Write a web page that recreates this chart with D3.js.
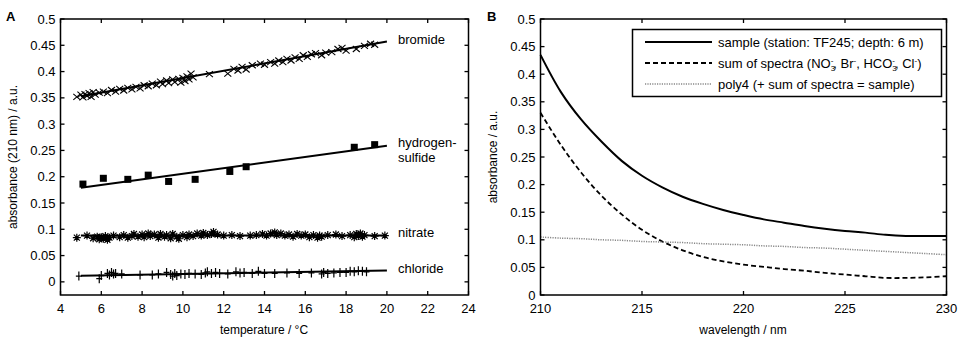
<!DOCTYPE html>
<html>
<head>
<meta charset="utf-8">
<script src="https://cdn.jsdelivr.net/npm/d3@7"></script>
<style>
  body { margin: 0; background: #fff; }
  svg { font-family: "Liberation Sans", Arial, sans-serif; }
</style>
</head>
<body>
<div id="chart"></div>
<script>
const width = 963
const height = 341

// panel A: absorbance at 210 nm vs temperature
const bromideT = [4.8,5.0,5.1,5.2,5.3,5.4,5.5,5.6,5.7,5.9,6.1,6.3,6.5,6.7,6.9,7.1,7.3,7.5,7.7,7.9,8.1,8.3,8.5,8.7,8.9,9.0,9.2,9.3,9.5,9.6,9.8,9.9,10.0,10.1,10.2,10.3,10.4,10.5,11.3,12.2,12.5,12.7,12.9,13.1,13.4,13.8,14.0,14.3,14.5,14.7,14.9,15.1,15.3,15.5,15.7,15.9,16.1,16.3,16.5,16.8,17.0,17.3,17.6,17.8,18.0,18.5,18.9,19.2,19.4]
const bromideA = [0.352,0.356,0.351,0.357,0.354,0.359,0.352,0.361,0.356,0.360,0.362,0.359,0.365,0.362,0.367,0.364,0.369,0.366,0.371,0.368,0.374,0.372,0.377,0.374,0.381,0.376,0.383,0.378,0.385,0.380,0.386,0.379,0.388,0.382,0.391,0.385,0.396,0.389,0.395,0.396,0.405,0.402,0.409,0.404,0.412,0.415,0.413,0.418,0.415,0.421,0.418,0.424,0.421,0.427,0.424,0.431,0.428,0.433,0.435,0.431,0.436,0.437,0.443,0.445,0.440,0.443,0.449,0.453,0.451]

const sulfideT = [5.1,6.1,7.3,8.3,9.3,10.6,12.3,13.1,18.4,19.4]
const sulfideA = [0.186,0.197,0.195,0.203,0.191,0.195,0.210,0.219,0.256,0.261]

const nitrateT = [4.8,5.3,5.6,5.8,5.9,6.0,6.1,6.2,6.3,6.4,6.6,6.9,7.1,7.3,7.5,7.6,7.8,8.0,8.1,8.3,8.4,8.6,8.8,8.9,9.1,9.2,9.4,9.5,9.7,9.8,10.0,10.2,10.3,10.5,10.7,10.9,11.0,11.2,11.4,11.5,11.7,12.0,12.4,12.8,13.3,13.6,13.9,14.1,14.3,14.5,14.6,14.8,15.0,15.2,15.4,15.6,15.8,16.0,16.2,16.4,16.6,16.7,16.8,17.1,17.5,17.8,18.2,18.4,18.5,18.6,18.7,18.8,18.9,19.4,19.9]
const nitrateA = [0.084,0.088,0.083,0.086,0.081,0.085,0.082,0.087,0.080,0.084,0.088,0.085,0.089,0.084,0.087,0.091,0.086,0.090,0.085,0.092,0.087,0.090,0.084,0.091,0.086,0.089,0.083,0.091,0.086,0.082,0.089,0.085,0.090,0.087,0.092,0.088,0.093,0.089,0.091,0.095,0.090,0.088,0.089,0.087,0.088,0.089,0.091,0.088,0.092,0.094,0.089,0.092,0.088,0.090,0.086,0.091,0.088,0.090,0.085,0.089,0.084,0.088,0.086,0.089,0.090,0.087,0.089,0.085,0.091,0.087,0.092,0.086,0.089,0.087,0.088]

const chlorideT = [4.9,5.9,6.0,6.3,6.4,6.5,6.6,6.7,7.0,7.9,8.5,8.8,9.2,9.4,9.5,9.6,9.7,9.9,10.1,10.3,10.6,10.9,11.1,11.2,11.4,11.6,11.8,12.2,12.6,12.8,13.0,13.4,13.7,14.0,14.5,15.1,15.7,16.3,16.8,16.9,17.1,17.4,17.7,18.0,18.2,18.4,18.6,18.8,19.0]
const chlorideA = [0.011,0.006,0.012,0.016,0.013,0.018,0.015,0.016,0.015,0.013,0.013,0.015,0.018,0.014,0.011,0.016,0.012,0.015,0.014,0.016,0.015,0.014,0.017,0.019,0.016,0.018,0.016,0.015,0.019,0.017,0.018,0.016,0.020,0.016,0.016,0.017,0.016,0.017,0.015,0.018,0.016,0.017,0.018,0.018,0.020,0.019,0.021,0.020,0.019]

// fitted lines (start / end at 5 and 20 degC)
const fitT = [5, 20]
const fits = [
  { name: "bromide", a: [0.353, 0.457] },
  { name: "sulfide", a: [0.179, 0.259] },
  { name: "nitrate", a: [0.088, 0.088] },
  { name: "chloride", a: [0.0115, 0.0215] }
]

// panel B: spectra
const wavelength = [210,211,212,213,214,215,216,217,218,219,220,221,222,223,224,225,226,227,228,229,230]
const sample = [0.435,0.368,0.318,0.278,0.243,0.216,0.195,0.178,0.165,0.154,0.145,0.137,0.131,0.125,0.120,0.116,0.113,0.109,0.107,0.107,0.107]
const sumSpectra = [0.330,0.272,0.222,0.180,0.146,0.118,0.097,0.081,0.069,0.061,0.055,0.051,0.047,0.044,0.040,0.037,0.034,0.031,0.031,0.032,0.034]
const poly4 = [0.105,0.103,0.102,0.100,0.099,0.097,0.096,0.095,0.093,0.092,0.091,0.089,0.088,0.086,0.085,0.083,0.081,0.079,0.077,0.075,0.073]

const yTicks = d3.range(0, 0.501, 0.05)
const fmt = d => d === 0 ? "0" : String(+d.toFixed(2))

const svg = d3.select("#chart").append("svg").attr("width", width).attr("height", height)

function frame(g, x, y, xTicks) {
  const [x0, x1] = x.range()
  const [y0, y1] = y.range()
  g.append("rect").attr("x", x0).attr("y", y1).attr("width", x1 - x0).attr("height", y0 - y1)
    .attr("fill", "none").attr("stroke", "#000").attr("stroke-width", 1.5)
  const tl = 4
  xTicks.forEach(t => {
    g.append("line").attr("x1", x(t)).attr("x2", x(t)).attr("y1", y0).attr("y2", y0 - tl).attr("stroke", "#000").attr("stroke-width", 1.3)
    g.append("line").attr("x1", x(t)).attr("x2", x(t)).attr("y1", y1).attr("y2", y1 + tl).attr("stroke", "#000").attr("stroke-width", 1.3)
    g.append("text").attr("x", x(t)).attr("y", y0 + 18).attr("text-anchor", "middle").attr("font-size", 13).text(t)
  })
  yTicks.forEach(t => {
    g.append("line").attr("x1", x0).attr("x2", x0 + tl).attr("y1", y(t)).attr("y2", y(t)).attr("stroke", "#000").attr("stroke-width", 1.3)
    g.append("line").attr("x1", x1).attr("x2", x1 - tl).attr("y1", y(t)).attr("y2", y(t)).attr("stroke", "#000").attr("stroke-width", 1.3)
    g.append("text").attr("x", x0 - 5).attr("y", y(t) + 4.5).attr("text-anchor", "end").attr("font-size", 13).text(fmt(t))
  })
}

// ---------- panel A ----------
const xA = d3.scaleLinear().domain([4, 24]).range([60.5, 468.5])
const yA = d3.scaleLinear().domain([-0.025, 0.5]).range([295, 19])
const gA = svg.append("g")

const plotA = gA.append("g")
const fitLine = d3.line().x((d, i) => xA(fitT[i])).y(d => yA(d))
fits.forEach(f => {
  plotA.append("path").attr("d", fitLine(f.a)).attr("fill", "none").attr("stroke", "#000").attr("stroke-width", 2)
})

const markers = {
  cross: "M-3.5,-3L3.5,3M3.5,-3L-3.5,3",
  star: "M-4,0L4,0M0,-4L0,4M-3,-3L3,3M3,-3L-3,3",
  plus: "M-3,0L3,0M0,-4.5L0,4.5"
}
function scatter(ts, as, m, sw) {
  plotA.append("g").selectAll("path").data(ts).join("path")
    .attr("transform", (d, i) => `translate(${xA(d)},${yA(as[i])})`)
    .attr("d", markers[m]).attr("stroke", "#000").attr("stroke-width", sw).attr("fill", "none")
}
scatter(bromideT, bromideA, "cross", 1.1)
scatter(nitrateT, nitrateA, "star", 1.2)
scatter(chlorideT, chlorideA, "plus", 1.2)
plotA.append("g").selectAll("rect").data(sulfideT).join("rect")
  .attr("x", d => xA(d) - 3.5).attr("y", (d, i) => yA(sulfideA[i]) - 3.5)
  .attr("width", 7).attr("height", 7).attr("fill", "#000")

frame(gA, xA, yA, d3.range(4, 25, 2))

const labA = [["bromide", 44], ["hydrogen-", 147], ["sulfide", 162], ["nitrate", 237], ["chloride", 273]]
labA.forEach(([t, yy]) => gA.append("text").attr("x", 398).attr("y", yy).attr("font-size", 13).text(t))

gA.append("text").attr("x", 264).attr("y", 334).attr("text-anchor", "middle").attr("font-size", 12).text("temperature / °C")
gA.append("text").attr("transform", "translate(17,157) rotate(-90)").attr("text-anchor", "middle").attr("font-size", 12).text("absorbance (210 nm) / a.u.")
gA.append("text").attr("x", 6).attr("y", 21).attr("font-size", 13).attr("font-weight", "bold").text("A")

// ---------- panel B ----------
const xB = d3.scaleLinear().domain([210, 230]).range([540.5, 946.5])
const yB = d3.scaleLinear().domain([0, 0.5]).range([295, 19])
const gB = svg.append("g")
const lineB = vals => d3.line().curve(d3.curveCatmullRom.alpha(0.5)).x((d, i) => xB(wavelength[i])).y(d => yB(d))(vals)

const styles = [
  { vals: sample, dash: null, color: "#000", w: 2 },
  { vals: sumSpectra, dash: "5,3", color: "#000", w: 1.8 },
  { vals: poly4, dash: "1.2,1.2", color: "#888", w: 1.5 }
]
styles.forEach(s => {
  gB.append("path").attr("d", lineB(s.vals)).attr("fill", "none").attr("stroke", s.color)
    .attr("stroke-width", s.w).attr("stroke-dasharray", s.dash)
})

frame(gB, xB, yB, d3.range(210, 231, 5))

// legend
const leg = gB.append("g")
leg.append("rect").attr("x", 632.5).attr("y", 29.5).attr("width", 309).attr("height", 67)
  .attr("fill", "#fff").attr("stroke", "#000").attr("stroke-width", 1.5)
const legY = [42, 63, 84]
styles.forEach((s, i) => {
  leg.append("line").attr("x1", 645).attr("x2", 712).attr("y1", legY[i]).attr("y2", legY[i])
    .attr("stroke", s.color).attr("stroke-width", s.w).attr("stroke-dasharray", s.dash)
})
leg.append("text").attr("x", 718).attr("y", legY[0] + 4.5).attr("font-size", 13).text("sample (station: TF245; depth: 6 m)")
leg.append("text").attr("x", 718).attr("y", legY[2] + 4.5).attr("font-size", 13).text("poly4 (+ sum of spectra = sample)")

// second legend entry with stacked sub/superscripts
const segs = [
  { t: "sum of spectra (NO", off: 0 },
  { t: "3", off: 3.5, size: 8 },
  { t: "-", off: -5, size: 8, dx: -4.5 },
  { t: ", Br", off: 0, dx: 0 },
  { t: "-", off: -5, size: 8 },
  { t: ", HCO", off: 0 },
  { t: "3", off: 3.5, size: 8 },
  { t: "-", off: -5, size: 8, dx: -4.5 },
  { t: ", Cl", off: 0 },
  { t: "-", off: -5, size: 8 },
  { t: ")", off: 0 }
]
const t2 = leg.append("text").attr("x", 718).attr("y", legY[1] + 4.5).attr("font-size", 13)
let cur = 0
segs.forEach(s => {
  const sp = t2.append("tspan").attr("dy", s.off - cur).text(s.t)
  if (s.size) sp.attr("font-size", s.size)
  if (s.dx) sp.attr("dx", s.dx)
  cur = s.off
})

gB.append("text").attr("x", 743).attr("y", 334).attr("text-anchor", "middle").attr("font-size", 12).text("wavelength / nm")
gB.append("text").attr("transform", "translate(497,157) rotate(-90)").attr("text-anchor", "middle").attr("font-size", 12).text("absorbance / a.u.")
gB.append("text").attr("x", 487).attr("y", 21).attr("font-size", 13).attr("font-weight", "bold").text("B")
</script>
</body>
</html>
